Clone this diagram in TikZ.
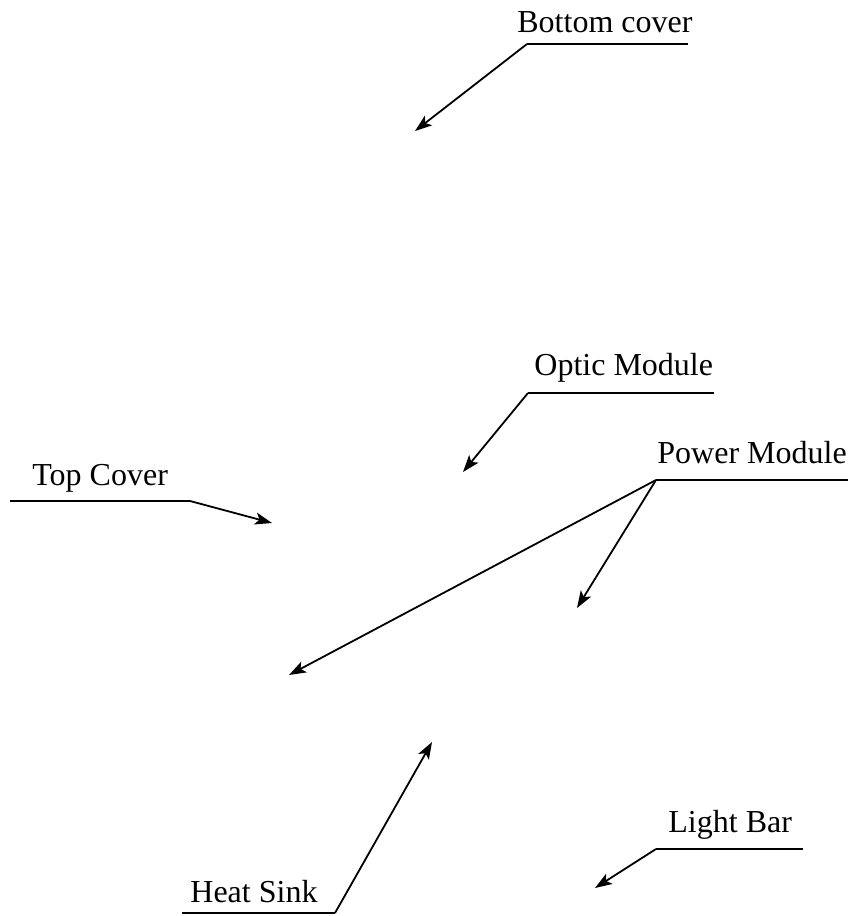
\documentclass[tikz,border=0pt]{standalone}
\usepackage{fontspec}
\setmainfont{Liberation Serif}
\usetikzlibrary{arrows.meta}
\tikzset{
  callout/.style={anchor=base west,inner sep=0pt,font=\fontsize{16}{18}\selectfont},
  leader/.style={-,line width=0.9pt},
  pointer/.style={->,>={Stealth[length=8.5pt,width=6pt,inset=2pt]},line width=0.9pt}
}
\begin{document}
\begin{tikzpicture}[x=0.5pt,y=-0.5pt]
  \useasboundingbox (0,0) rectangle (848,916);
  % labels with their underlines
  \foreach \name/\txt/\tx/\ty/\ax/\bx/\ly in {
    bottom/Bottom cover/517/32/527/688/44,
    optic/Optic Module/534/375/528/714/393,
    top/Top Cover/32/485/10/190/501,
    power/Power Module/657/463/656/848/480,
    heat/Heat Sink/190/902/182/335/913,
    light/Light Bar/668/832/656/803/849
  } {
    \node[callout] (\name) at (\tx,\ty) {\txt};
    \coordinate (\name-a) at (\ax,\ly);
    \coordinate (\name-b) at (\bx,\ly);
    \draw[leader] (\name-a) -- (\name-b);
  }
  % arrow tips
  \coordinate (bottom-tip) at (415,131);
  \coordinate (optic-tip) at (463,472);
  \coordinate (top-tip) at (272,523);
  \coordinate (power-tip1) at (289,675);
  \coordinate (power-tip2) at (577,608);
  \coordinate (heat-tip) at (432,742);
  \coordinate (light-tip) at (595,888);
  \draw[pointer] (bottom-a) -- (bottom-tip);
  \draw[pointer] (optic-a) -- (optic-tip);
  \draw[pointer] (top-b) -- (top-tip);
  \draw[pointer] (power-a) -- (power-tip1);
  \draw[pointer] (power-a) -- (power-tip2);
  \draw[pointer] (heat-b) -- (heat-tip);
  \draw[pointer] (light-a) -- (light-tip);
\end{tikzpicture}
\end{document}
